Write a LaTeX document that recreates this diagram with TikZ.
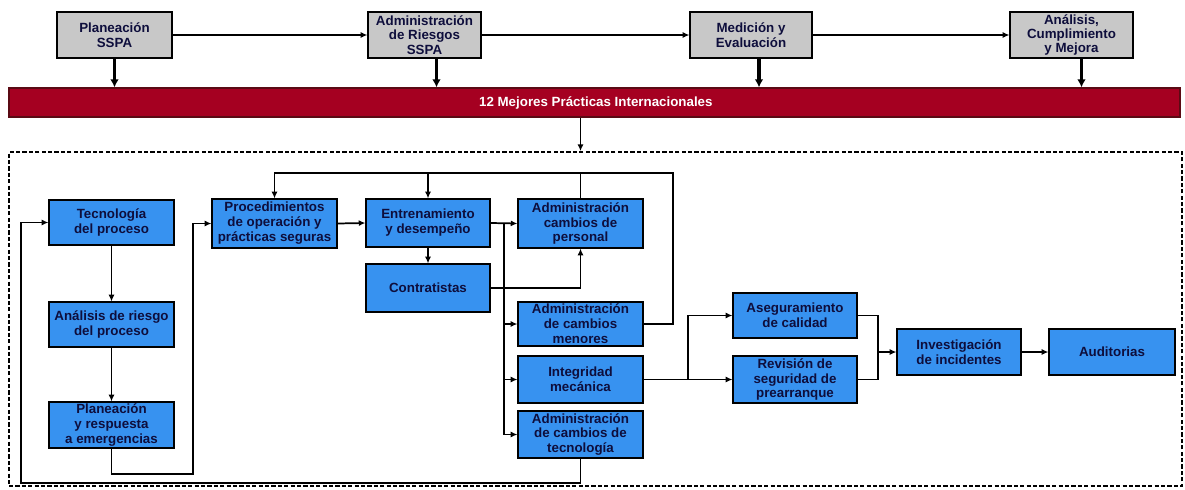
\documentclass[tikz,border=0pt]{standalone}
\usepackage{fontspec}
\setmainfont{Liberation Sans}
\usetikzlibrary{arrows.meta,shadows,calc}

\definecolor{boxblue}{RGB}{55,146,240}
\definecolor{boxgray}{RGB}{200,200,200}
\definecolor{barred}{RGB}{165,0,33}
\definecolor{bardark}{RGB}{90,10,20}
\definecolor{navy}{RGB}{14,14,60}

\begin{document}
\begin{tikzpicture}[x=0.75pt,y=-0.75pt,
  wh/.style 2 args={minimum width=#1*0.75pt, minimum height=#2*0.75pt},
  box/.style={draw=black, line width=0.9pt, inner sep=0pt, align=center, text=navy,
    drop shadow={shadow xshift=1.1pt, shadow yshift=-1.1pt, opacity=0.85, fill=black}},
  bluebox/.style={box, fill=boxblue, font=\bfseries\fontsize{10}{11.2}\selectfont},
  graybox/.style={box, fill=boxgray, font=\bfseries\fontsize{10}{10.8}\selectfont},
  bar/.style={draw=bardark, line width=1pt, fill=barred, inner sep=0pt, text=white,
    font=\bfseries\fontsize{10}{12}\selectfont},
  frame/.style={draw=black, line width=1.3pt, dash pattern=on 3.2pt off 1.6pt, inner sep=0pt},
  ln/.style={draw=black, line width=1.3pt},
  thin/.style={ln, line width=0.8pt},
  arr/.style={ln, -{Latex[length=5pt,width=4.5pt]}},
  bigarr/.style={draw=black, line width=2.3pt, -{Latex[length=6pt,width=6.5pt]}}
]
\useasboundingbox (0,0) rectangle (1185,489);

% ---- top process row ----
\node[graybox, wh={115}{46}] (p1) at (114.5,35) {Planeación\\SSPA};
\node[graybox, wh={113}{46}] (p2) at (424.5,35) {Administración\\de Riesgos\\SSPA};
\node[graybox, wh={122}{46}] (p3) at (751,35) {Medición y\\Evaluación};
\node[graybox, wh={123}{46}] (p4) at (1071.5,35) {Análisis,\\Cumplimiento\\y Mejora};

\draw[arr] (p1.east) -- (p2.west);
\draw[arr] (p2.east) -- (p3.west);
\draw[arr] (p3.east) -- (p4.west);

% ---- best practices bar ----
\node[bar, wh={1171}{29}] (bar) at (594.5,102.5) {\hspace*{2pt}12 Mejores Prácticas Internacionales};

\coordinate (a1) at (p1.south);
\coordinate (a2) at ($(p2.south)+(12,0)$);
\coordinate (a3) at ($(p3.south)+(8,0)$);
\coordinate (a4) at ($(p4.south)+(10,0)$);
\foreach \a in {a1,a2,a3,a4}
  \draw[bigarr] (\a) -- (\a |- bar.north);

% ---- dashed frame with the twelve practices ----
\node[frame, wh={1173}{334}] (frame) at (595.5,319) {};

\node[bluebox, wh={125}{45}] (t1) at (111.5,222.5) {Tecnología\\del proceso};
\node[bluebox, wh={125}{45}] (t2) at (111.5,324.5) {Análisis de riesgo\\del proceso};
\node[bluebox, wh={125}{46}] (t3) at (111.5,425) {Planeación\\y respuesta\\a emergencias};
\node[bluebox, wh={125}{49}] (t4) at (274.5,223.5) {Procedimientos\\de operación y\\prácticas seguras};
\node[bluebox, wh={124}{48}] (t5) at (428,223) {Entrenamiento\\y desempeño};
\node[bluebox, wh={124}{48}] (t6) at (428,288) {Contratistas};
\node[bluebox, wh={125}{49}] (t7) at (580.5,223.5) {Administración\\cambios de\\personal};
\node[bluebox, wh={125}{44}] (t8) at (580.5,324) {Administración\\de cambios\\menores};
\node[bluebox, wh={125}{47}] (t9) at (580.5,379.5) {Integridad\\mecánica};
\node[bluebox, wh={125}{47}] (t10) at (580.5,434.5) {Administración\\de cambios de\\tecnología};
\node[bluebox, wh={124}{45}] (t11) at (795,315.5) {Aseguramiento\\de calidad};
\node[bluebox, wh={124}{47}] (t12) at (795,379.5) {Revisión de\\seguridad de\\prearranque};
\node[bluebox, wh={124}{46}] (t13) at (959,352) {Investigación\\de incidentes};
\node[bluebox, wh={126}{46}] (t14) at (1112,352) {Auditorias};

\draw[arr] (bar.south -| t7.north) -- (frame.north -| t7.north);

% left column
\draw[thin, -{Latex[length=5pt,width=4.5pt]}] (t1.south) -- (t2.north);
\draw[arr] (t2.south) -- (t3.north);
\coordinate (j1) at (193,474);
\draw[arr] (t3.south) |- (j1) |- (t4.west);
\coordinate (j2) at (21,483);
\draw[arr] (t10.south) |- (j2) |- (t1.west);

% middle block
\draw[arr] (t4.east) -- (t5.west);
\draw[arr] (t5.south) -- (t6.north);
\draw[arr] (t5.east) -- (t7.west);
\coordinate (bus) at (504,223);
\draw[arr] (bus) |- (t8.west);
\draw[arr] (bus) |- (t9.west);
\draw[arr] (bus) |- (t10.west);
\draw[arr] (t6.east) -| (t7.south);

% feedback rail along the top
\coordinate (r1) at (673,173);
\draw[arr] (t8.east) -| (r1) -| (t4.north);
\draw[arr] (t5.north |- r1) -- (t5.north);
\draw[ln] (t7.north) -- (t7.north |- r1);

% right block
\coordinate (s1) at (688,379.5);
\draw[ln] (t9.east) -- (s1);
\draw[arr] (s1) |- (t11.west);
\draw[arr] (s1) -- (t12.west);
\coordinate (m1) at (878,352);
\draw[ln] (t11.east) -| (m1);
\draw[ln] (t12.east) -| (m1);
\draw[arr] (m1) -- (t13.west);
\draw[arr] (t13.east) -- (t14.west);
\end{tikzpicture}
\end{document}
